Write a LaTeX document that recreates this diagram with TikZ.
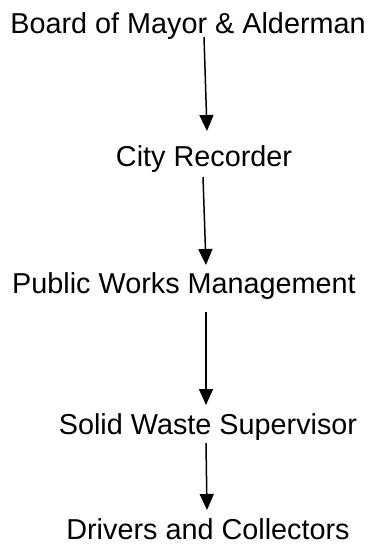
\documentclass[tikz,border=0pt]{standalone}
\usepackage{fontspec}
\setmainfont{Liberation Sans}
\usetikzlibrary{arrows.meta,calc}
\begin{document}
\begin{tikzpicture}[x=1pt,y=-1pt,
  lbl/.style={anchor=base,inner sep=0pt,font=\fontsize{28.8}{34}\selectfont},
  arr/.style={line width=1.5pt,-{Triangle[length=16pt,width=14pt]}}]
\useasboundingbox (0,0) rectangle (372,544);
\node[lbl] (t1) at (188,33) {Board of Mayor \& Alderman};
\node[lbl] (t2) at (204,166) {City Recorder};
\node[lbl] (t3) at (184,293) {Public Works Management};
\node[lbl] (t4) at (208,434) {Solid Waste Supervisor};
\node[lbl] (t5) at (208,539) {Drivers and Collectors};
\draw[arr] ($(t1.base)+(16,4)$) -- ($(t2.base)+(3,-35)$);
\draw[arr] ($(t2.base)+(-1,11)$) -- ($(t3.base)+(22,-28)$);
\draw[arr] ($(t3.base)+(22,19)$) -- ($(t4.base)+(-2,-29)$);
\draw[arr] ($(t4.base)+(-2,9)$) -- ($(t5.base)+(-1,-29)$);
\end{tikzpicture}
\end{document}
